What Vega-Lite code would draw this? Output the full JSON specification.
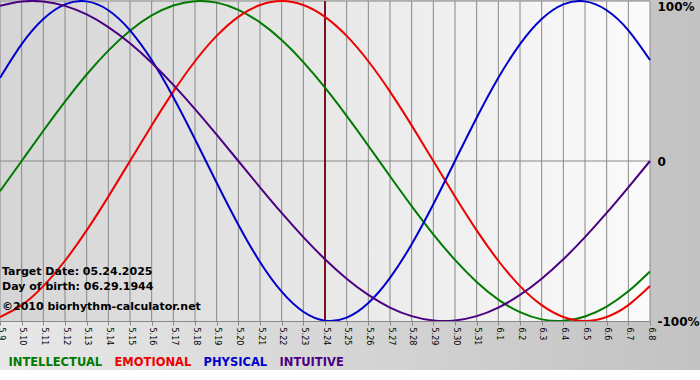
{
  "$schema": "https://vega.github.io/schema/vega-lite/v6.json",
  "width": 650,
  "height": 320,
  "autosize": {"type": "none"},
  "padding": {"left": 0, "top": 1, "right": 50, "bottom": 59},
  "background": "#ffffff",
  "config": {"view": {"stroke": null}, "font": "DejaVu Sans"},
  "data": {
    "values": [
      {"d": 0, "INTELLECTUAL": -0.1893, "EMOTIONAL": -0.9749, "PHYSICAL": 0.5196, "INTUITIVE": 0.9694},
      {"d": 1, "INTELLECTUAL": 0, "EMOTIONAL": -0.901, "PHYSICAL": 0.7308, "INTUITIVE": 0.9966},
      {"d": 2, "INTELLECTUAL": 0.1893, "EMOTIONAL": -0.7818, "PHYSICAL": 0.8879, "INTUITIVE": 0.9966},
      {"d": 3, "INTELLECTUAL": 0.3717, "EMOTIONAL": -0.6235, "PHYSICAL": 0.9791, "INTUITIVE": 0.9694},
      {"d": 4, "INTELLECTUAL": 0.5406, "EMOTIONAL": -0.4339, "PHYSICAL": 0.9977, "INTUITIVE": 0.9158},
      {"d": 5, "INTELLECTUAL": 0.6901, "EMOTIONAL": -0.2225, "PHYSICAL": 0.9423, "INTUITIVE": 0.8372},
      {"d": 6, "INTELLECTUAL": 0.8146, "EMOTIONAL": 0, "PHYSICAL": 0.817, "INTUITIVE": 0.7357},
      {"d": 7, "INTELLECTUAL": 0.9096, "EMOTIONAL": 0.2225, "PHYSICAL": 0.6311, "INTUITIVE": 0.6142},
      {"d": 8, "INTELLECTUAL": 0.9718, "EMOTIONAL": 0.4339, "PHYSICAL": 0.3984, "INTUITIVE": 0.4759},
      {"d": 9, "INTELLECTUAL": 0.9989, "EMOTIONAL": 0.6235, "PHYSICAL": 0.1362, "INTUITIVE": 0.3247},
      {"d": 10, "INTELLECTUAL": 0.9898, "EMOTIONAL": 0.7818, "PHYSICAL": -0.1362, "INTUITIVE": 0.1646},
      {"d": 11, "INTELLECTUAL": 0.945, "EMOTIONAL": 0.901, "PHYSICAL": -0.3984, "INTUITIVE": 0},
      {"d": 12, "INTELLECTUAL": 0.866, "EMOTIONAL": 0.9749, "PHYSICAL": -0.6311, "INTUITIVE": -0.1646},
      {"d": 13, "INTELLECTUAL": 0.7557, "EMOTIONAL": 1, "PHYSICAL": -0.817, "INTUITIVE": -0.3247},
      {"d": 14, "INTELLECTUAL": 0.6182, "EMOTIONAL": 0.9749, "PHYSICAL": -0.9423, "INTUITIVE": -0.4759},
      {"d": 15, "INTELLECTUAL": 0.4582, "EMOTIONAL": 0.901, "PHYSICAL": -0.9977, "INTUITIVE": -0.6142},
      {"d": 16, "INTELLECTUAL": 0.2817, "EMOTIONAL": 0.7818, "PHYSICAL": -0.9791, "INTUITIVE": -0.7357},
      {"d": 17, "INTELLECTUAL": 0.0951, "EMOTIONAL": 0.6235, "PHYSICAL": -0.8879, "INTUITIVE": -0.8372},
      {"d": 18, "INTELLECTUAL": -0.0951, "EMOTIONAL": 0.4339, "PHYSICAL": -0.7308, "INTUITIVE": -0.9158},
      {"d": 19, "INTELLECTUAL": -0.2817, "EMOTIONAL": 0.2225, "PHYSICAL": -0.5196, "INTUITIVE": -0.9694},
      {"d": 20, "INTELLECTUAL": -0.4582, "EMOTIONAL": 0, "PHYSICAL": -0.2698, "INTUITIVE": -0.9966},
      {"d": 21, "INTELLECTUAL": -0.6182, "EMOTIONAL": -0.2225, "PHYSICAL": 0, "INTUITIVE": -0.9966},
      {"d": 22, "INTELLECTUAL": -0.7557, "EMOTIONAL": -0.4339, "PHYSICAL": 0.2698, "INTUITIVE": -0.9694},
      {"d": 23, "INTELLECTUAL": -0.866, "EMOTIONAL": -0.6235, "PHYSICAL": 0.5196, "INTUITIVE": -0.9158},
      {"d": 24, "INTELLECTUAL": -0.945, "EMOTIONAL": -0.7818, "PHYSICAL": 0.7308, "INTUITIVE": -0.8372},
      {"d": 25, "INTELLECTUAL": -0.9898, "EMOTIONAL": -0.901, "PHYSICAL": 0.8879, "INTUITIVE": -0.7357},
      {"d": 26, "INTELLECTUAL": -0.9989, "EMOTIONAL": -0.9749, "PHYSICAL": 0.9791, "INTUITIVE": -0.6142},
      {"d": 27, "INTELLECTUAL": -0.9718, "EMOTIONAL": -1, "PHYSICAL": 0.9977, "INTUITIVE": -0.4759},
      {"d": 28, "INTELLECTUAL": -0.9096, "EMOTIONAL": -0.9749, "PHYSICAL": 0.9423, "INTUITIVE": -0.3247},
      {"d": 29, "INTELLECTUAL": -0.8146, "EMOTIONAL": -0.901, "PHYSICAL": 0.817, "INTUITIVE": -0.1646},
      {"d": 30, "INTELLECTUAL": -0.6901, "EMOTIONAL": -0.7818, "PHYSICAL": 0.6311, "INTUITIVE": 0}
    ]
  },
  "layer": [
    {
      "data": {"values": [{}]},
      "mark": {
        "type": "rect",
        "fill": {"gradient": "linear", "x1": 0, "y1": 0, "x2": 1, "y2": 0,
          "stops": [{"offset": 0, "color": "#e8e8e8"}, {"offset": 1, "color": "#c2c2c2"}]}
      },
      "encoding": {
        "x": {"datum": 0, "type": "quantitative", "scale": {"domain": [0, 30], "nice": false, "zero": false}},
        "x2": {"datum": 32.31},
        "y": {"datum": 1.00625, "type": "quantitative", "scale": {"domain": [-1, 1], "nice": false, "zero": false}},
        "y2": {"datum": -1.306}
      }
    },
    {
      "data": {"values": [{}]},
      "mark": {
        "type": "rect",
        "fill": {"gradient": "linear", "x1": 0, "y1": 0, "x2": 1, "y2": 0,
          "stops": [{"offset": 0, "color": "#d5d5d5"}, {"offset": 1, "color": "#fbfbfb"}]}
      },
      "encoding": {
        "x": {"datum": 0, "type": "quantitative"},
        "x2": {"datum": 30},
        "y": {"datum": -1, "type": "quantitative"},
        "y2": {"datum": 1}
      }
    },
    {
      "mark": {"type": "rule", "color": "#888888", "strokeWidth": 1},
      "encoding": {"x": {"field": "d", "type": "quantitative"}}
    },
    {
      "data": {"values": [{}]},
      "mark": {"type": "rule", "color": "#888888", "strokeWidth": 1},
      "encoding": {"y": {"datum": 0, "type": "quantitative"}}
    },
    {
      "data": {"values": [{}]},
      "mark": {"type": "rule", "color": "#888888", "strokeWidth": 1},
      "encoding": {"y": {"datum": 1, "type": "quantitative"}}
    },
    {
      "data": {"values": [{}]},
      "mark": {"type": "rule", "color": "#7a1020", "strokeWidth": 2},
      "encoding": {"x": {"datum": 15, "type": "quantitative"}}
    },
    {
      "transform": [{"fold": ["INTELLECTUAL", "EMOTIONAL", "PHYSICAL", "INTUITIVE"], "as": ["series", "value"]}],
      "mark": {"type": "line", "interpolate": "natural", "strokeWidth": 2},
      "encoding": {
        "x": {
          "field": "d", "type": "quantitative",
          "scale": {"domain": [0, 30], "nice": false, "zero": false},
          "axis": {
            "zindex": 1,
            "tickCount": 40,
            "values": [0,1,2,3,4,5,6,7,8,9,10,11,12,13,14,15,16,17,18,19,20,21,22,23,24,25,26,27,28,29,30],
            "labelExpr": "['5.9','5.10','5.11','5.12','5.13','5.14','5.15','5.16','5.17','5.18','5.19','5.20','5.21','5.22','5.23','5.24','5.25','5.26','5.27','5.28','5.29','5.30','5.31','6.1','6.2','6.3','6.4','6.5','6.6','6.7','6.8'][datum.value]",
            "labelAngle": 90,
            "labelFont": "DejaVu Sans",
            "labelFontSize": 8,
            "labelColor": "#000000",
            "labelPadding": 2,
            "labelOverlap": false,
            "labelFlush": false,
            "labelBound": false,
            "tickSize": 4,
            "tickColor": "#888888",
            "domainColor": "#888888",
            "grid": false,
            "title": null
          }
        },
        "y": {
          "field": "value", "type": "quantitative",
          "scale": {"domain": [-1, 1], "nice": false, "zero": false},
          "axis": {
            "zindex": 1,
            "orient": "right",
            "values": [-1, 0, 1],
            "labelExpr": "datum.value == 1 ? '100%' : datum.value == 0 ? '0' : '-100%'",
            "domain": false,
            "ticks": false,
            "grid": false,
            "title": null,
            "labelFont": "DejaVu Sans",
            "labelFontWeight": "bold",
            "labelFontSize": 12,
            "labelColor": "#000000",
            "labelPadding": 7,
            "labelAlign": "left",
            "labelFlush": false,
            "labelBaseline": {"condition": {"test": "datum.value == 1", "value": "top"}, "value": "middle"}
          }
        },
        "color": {
          "field": "series", "type": "nominal",
          "scale": {
            "domain": ["INTELLECTUAL", "EMOTIONAL", "PHYSICAL", "INTUITIVE"],
            "range": ["#007a00", "#ee0000", "#0000cc", "#4b0082"]
          },
          "legend": {
            "title": null,
            "orient": "none",
            "direction": "horizontal",
            "legendX": -3,
            "legendY": 356,
            "padding": 0,
            "symbolSize": 0,
            "symbolStrokeWidth": 0,
            "symbolOpacity": 0,
            "labelOffset": 0,
            "columnPadding": -4,
            "labelFont": "DejaVu Sans",
            "labelFontWeight": "bold",
            "labelFontSize": 11.5,
            "labelColor": {"expr": "datum.label == 'INTELLECTUAL' ? '#007a00' : datum.label == 'EMOTIONAL' ? '#ee0000' : datum.label == 'PHYSICAL' ? '#0000cc' : '#4b0082'"}
          }
        }
      }
    },
    {
      "data": {"values": [{}]},
      "mark": {"type": "text", "align": "left", "baseline": "middle", "dx": 2, "font": "DejaVu Sans", "fontWeight": "bold", "fontSize": 11, "color": "#000000"},
      "encoding": {"x": {"datum": 0, "type": "quantitative"}, "y": {"datum": -0.694, "type": "quantitative"}, "text": {"value": "Target Date: 05.24.2025"}}
    },
    {
      "data": {"values": [{}]},
      "mark": {"type": "text", "align": "left", "baseline": "middle", "dx": 2, "font": "DejaVu Sans", "fontWeight": "bold", "fontSize": 11, "color": "#000000"},
      "encoding": {"x": {"datum": 0, "type": "quantitative"}, "y": {"datum": -0.7875, "type": "quantitative"}, "text": {"value": "Day of birth: 06.29.1944"}}
    },
    {
      "data": {"values": [{}]},
      "mark": {"type": "text", "align": "left", "baseline": "middle", "dx": 2, "font": "DejaVu Sans", "fontWeight": "bold", "fontSize": 11, "color": "#000000"},
      "encoding": {"x": {"datum": 0, "type": "quantitative"}, "y": {"datum": -0.9125, "type": "quantitative"}, "text": {"value": "©2010 biorhythm-calculator.net"}}
    }
  ]
}
